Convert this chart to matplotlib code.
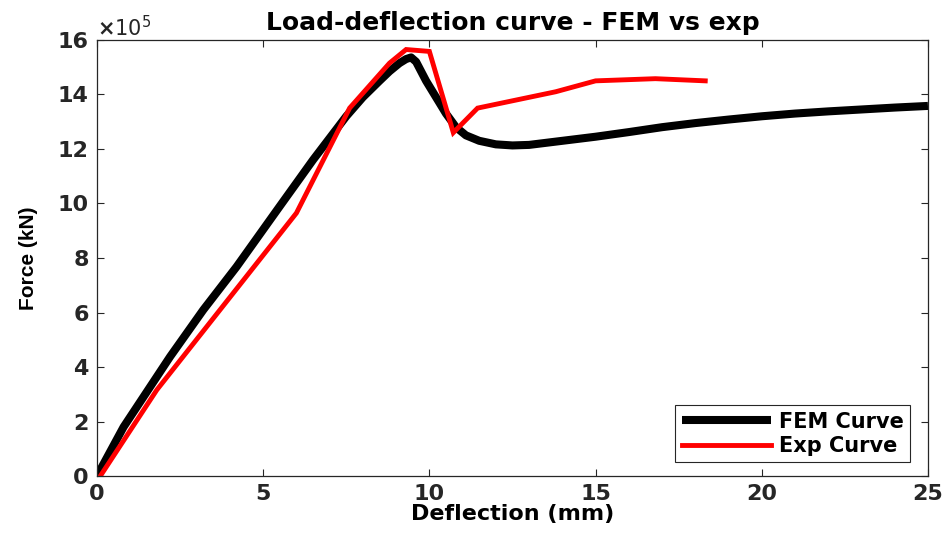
import numpy as np
import matplotlib
matplotlib.use("Agg")
import matplotlib.pyplot as plt
from matplotlib.ticker import ScalarFormatter

# FEM curve (deflection mm, force x1e5)
fem_x = [0, 0.8, 2.2, 3.2, 4.2, 5.5, 6.5, 7.5, 8.0, 8.5, 8.8, 9.1, 9.3, 9.45,
         9.6, 9.9, 10.2, 10.5, 10.8, 11.1, 11.5, 12.0, 12.5, 13.0, 14.0, 15.0,
         16.0, 17.0, 18.0, 19.0, 20.0, 21.0, 22.0, 23.0, 24.0, 25.0]
fem_y = [0, 1.8, 4.38, 6.1, 7.68, 9.9, 11.6, 13.2, 13.9, 14.5, 14.85, 15.15,
         15.3, 15.36, 15.2, 14.5, 13.9, 13.3, 12.8, 12.5, 12.3, 12.17, 12.13,
         12.15, 12.3, 12.45, 12.62, 12.8, 12.95, 13.08, 13.2, 13.3, 13.38,
         13.45, 13.52, 13.58]

# experimental curve
exp_x = [0.1, 1.8, 6.0, 7.6, 8.8, 9.3, 10.0, 10.72, 11.45, 13.8, 15.0, 16.8, 18.3]
exp_y = [0, 3.16, 9.65, 13.5, 15.15, 15.65, 15.58, 12.6, 13.5, 14.1, 14.5, 14.58, 14.5]

x_ticks = [0, 5, 10, 15, 20, 25]
y_ticks = [0, 2, 4, 6, 8, 10, 12, 14, 16]


class Exp5Formatter(ScalarFormatter):
    def _set_order_of_magnitude(self):
        self.orderOfMagnitude = 5

    def _set_format(self):
        self.format = '%1.0f'


plt.rcParams['font.family'] = 'DejaVu Sans'
plt.rcParams['font.weight'] = 'bold'
gray = '#262626'

fig = plt.figure(figsize=(9.5, 5.33), dpi=100)
ax = fig.add_axes([0.1021, 0.1069, 0.8747, 0.8181])

scale = 1e5
ax.plot(fem_x, np.array(fem_y) * scale, color='black', lw=5.8,
        label='FEM Curve', solid_joinstyle='round', solid_capstyle='butt')
ax.plot(exp_x, np.array(exp_y) * scale, color='red', lw=3.5,
        label='Exp Curve', solid_joinstyle='miter')

ax.set_xlim(0, 25)
ax.set_ylim(0, 16e5)
ax.set_xticks(x_ticks)
ax.set_yticks(np.array(y_ticks) * scale)

fmt = Exp5Formatter(useMathText=True, useOffset=False)
ax.yaxis.set_major_formatter(fmt)
ax.yaxis.get_offset_text().set_fontsize(15)
ax.yaxis.get_offset_text().set_fontweight('normal')
ax.yaxis.get_offset_text().set_color(gray)

ax.tick_params(direction='in', length=5, width=0.8, colors=gray,
               labelsize=16, top=True, right=True, pad=6)
for lbl in ax.get_xticklabels() + ax.get_yticklabels():
    lbl.set_fontweight('bold')
for sp in ax.spines.values():
    sp.set_color(gray)
    sp.set_linewidth(0.9)

ax.set_title('Load-deflection curve - FEM vs exp', fontsize=18,
             fontweight='bold', pad=7)
ax.set_xlabel('Deflection (mm)', fontsize=16, fontweight='bold', labelpad=0)
ax.set_ylabel('Force (kN)', fontsize=15, fontweight='bold',
              family='Liberation Sans', labelpad=14)

leg = ax.legend(loc='lower right', fontsize=15, handlelength=4.3,
                handletextpad=0.35, borderpad=0.3, labelspacing=0.2,
                borderaxespad=0, fancybox=False, framealpha=1,
                bbox_to_anchor=(0.978, 0.032))
leg.get_frame().set_edgecolor(gray)
leg.get_frame().set_linewidth(0.8)

fig.savefig('out.png', dpi=100)
